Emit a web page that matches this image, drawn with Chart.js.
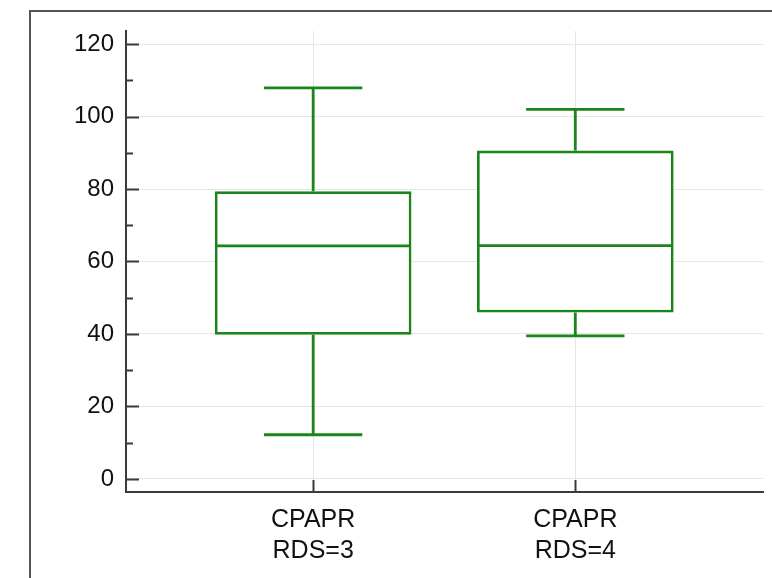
<!DOCTYPE html>
<html lang="en">
<head>
  <meta charset="UTF-8" />
  <title>CPAPR by RDS</title>
  <script src="https://cdn.jsdelivr.net/npm/chart.js@4.4.1"></script>
  <style>
    html, body { margin:0; padding:0; background:#fff; overflow:hidden; }
    .wrap { position:relative; width:772px; height:578px; }
    .frame { position:absolute; left:29px; top:10px; width:760px; height:600px;
             border-left:2px solid #555; border-top:2px solid #555; }
    canvas { position:absolute; left:0; top:0; }
  </style>
</head>
<body>
<div class="wrap">
  <div class="frame"></div>
  <canvas id="box" width="772" height="578"></canvas>
</div>

<script>
  // groups and their five-number summaries
  var groups      = [['CPAPR','RDS=3'], ['CPAPR','RDS=4']];
  var whiskerLow  = [12.2, 39.5];
  var q1          = [39.8, 45.9];
  var median      = [64.3, 64.4];
  var q3          = [79.4, 90.6];
  var whiskerHigh = [107.9, 102];

  var yTicks      = [0, 20, 40, 60, 80, 100, 120];
  var yMinorTicks = [10, 30, 50, 70, 90, 110];

  var GREEN = '#1a861a';
  var AXIS  = '#3a3a3a';
  var FONT  = "'Liberation Sans', Arial, sans-serif";

  var positions = groups.map(function(g, i){ return i + 1; });

  // whiskers, caps and medians drawn on top of the floating bars
  var boxParts = {
    id: 'boxParts',
    afterDatasetsDraw: function(chart){
      var c = chart.ctx, y = chart.scales.y;
      var bars = chart.getDatasetMeta(0).data;
      c.save();
      c.strokeStyle = GREEN;
      c.lineWidth = 2.8;
      bars.forEach(function(bar, i){
        var x = bar.x, half = bar.width / 2, cap = bar.width / 4;
        var yLo = y.getPixelForValue(whiskerLow[i]);
        var yHi = y.getPixelForValue(whiskerHigh[i]);
        var yQ1 = y.getPixelForValue(q1[i]);
        var yQ3 = y.getPixelForValue(q3[i]);
        var yMd = y.getPixelForValue(median[i]);
        c.beginPath();
        c.moveTo(x, yQ3); c.lineTo(x, yHi);
        c.moveTo(x - cap, yHi); c.lineTo(x + cap, yHi);
        c.moveTo(x, yQ1); c.lineTo(x, yLo);
        c.moveTo(x - cap, yLo); c.lineTo(x + cap, yLo);
        c.moveTo(x - half + 1, yMd); c.lineTo(x + half - 1, yMd);
        c.stroke();
      });
      c.restore();
    }
  };

  // tick marks pointing into the plot
  var innerTicks = {
    id: 'innerTicks',
    afterDraw: function(chart){
      var c = chart.ctx, a = chart.chartArea;
      var x = chart.scales.x, y = chart.scales.y;
      c.save();
      c.strokeStyle = AXIS;
      c.lineWidth = 2;
      c.beginPath();
      yTicks.forEach(function(v){
        var p = Math.round(y.getPixelForValue(v)) + 0.5;
        c.moveTo(a.left, p); c.lineTo(a.left + 13, p);
      });
      yMinorTicks.forEach(function(v){
        var p = Math.round(y.getPixelForValue(v)) + 0.5;
        c.moveTo(a.left, p); c.lineTo(a.left + 7, p);
      });
      positions.forEach(function(v){
        var p = Math.round(x.getPixelForValue(v)) + 0.5;
        c.moveTo(p, a.bottom); c.lineTo(p, a.bottom - 12);
      });
      c.stroke();
      c.restore();
    }
  };

  new Chart(document.getElementById('box'), {
    type: 'bar',
    data: {
      datasets: [{
        data: positions.map(function(p, i){ return { x: p, y: [q1[i], q3[i]] }; }),
        backgroundColor: '#ffffff',
        borderColor: GREEN,
        borderWidth: 2.8,
        borderSkipped: false,
        barPercentage: 0.75,
        categoryPercentage: 1
      }]
    },
    options: {
      responsive: false,
      animation: false,
      events: [],
      layout: { padding: { top: 31, right: 9, left: 0, bottom: 0 } },
      plugins: { legend: { display: false }, tooltip: { enabled: false } },
      scales: {
        x: {
          type: 'linear',
          min: 0.286, max: 2.716,
          offset: false,
          afterBuildTicks: function(s){ s.ticks = positions.map(function(v){ return { value: v }; }); },
          afterFit: function(s){ s.height = 86; },
          grid: { color: '#e6e6e6', lineWidth: 1, drawTicks: false, offset: false },
          border: { color: AXIS, width: 2 },
          ticks: {
            padding: 13,
            color: '#111',
            font: { family: FONT, size: 25, lineHeight: 1.24 },
            maxRotation: 0,
            callback: function(v){ return groups[positions.indexOf(v)] || ''; }
          }
        },
        y: {
          min: -3.6, max: 123.6,
          afterBuildTicks: function(s){ s.ticks = yTicks.map(function(v){ return { value: v }; }); },
          afterFit: function(s){ s.width = 126; },
          grid: { color: '#e6e6e6', lineWidth: 1, drawTicks: false },
          border: { color: AXIS, width: 2 },
          ticks: {
            padding: 12,
            color: '#111',
            font: { family: FONT, size: 24 }
          }
        }
      }
    },
    plugins: [boxParts, innerTicks]
  });
</script>
</body>
</html>
